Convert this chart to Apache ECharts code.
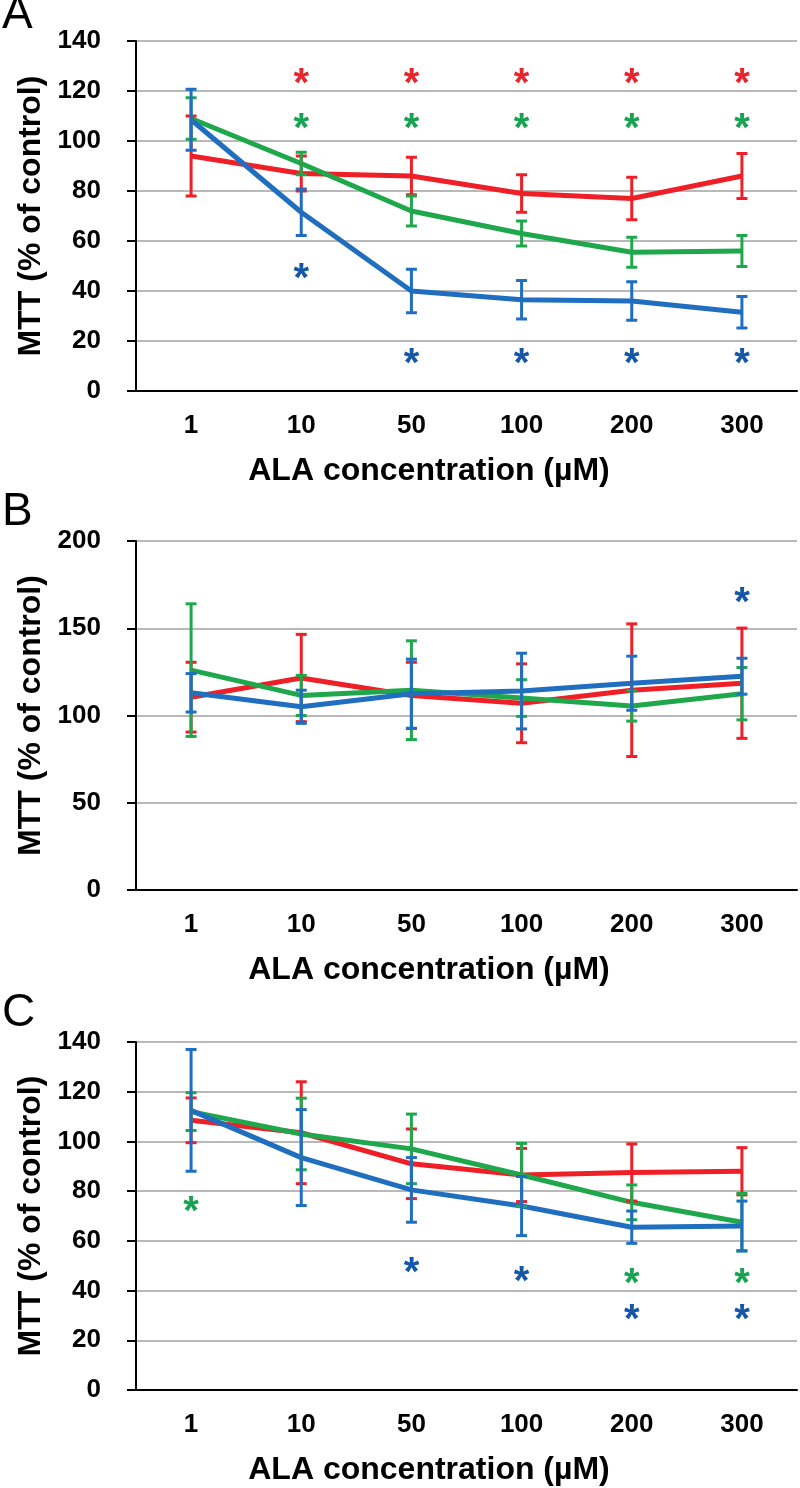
<!DOCTYPE html>
<html>
<head>
<meta charset="utf-8">
<script src="https://cdn.jsdelivr.net/npm/echarts@6/dist/echarts.min.js"></script>
<style>
html,body{margin:0;padding:0;background:#fff;}
#chart{width:800px;height:1488px;}
</style>
</head>
<body>
<div id="chart"></div>
<script>
// ---------- data ----------
const categories = ['1', '10', '50', '100', '200', '300'];

// Panel A
const A_red = [94, 87, 86, 79, 77, 86];
const A_redErr = [16, 7, 7.5, 7.5, 8.5, 9];
const A_green = [109, 91, 72, 63, 55.5, 56];
const A_greenErr = [8.3, 4.5, 6, 5, 6, 6.2];
const A_blue = [108.5, 71.5, 40, 36.5, 36, 31.5];
const A_blueErr = [12.2, 9.3, 8.7, 7.7, 7.7, 6.3];
const A_redStars = [[1, 127], [2, 127], [3, 127], [4, 127], [5, 127]];
const A_greenStars = [[1, 109], [2, 109], [3, 109], [4, 109], [5, 109]];
const A_blueStars = [[1, 49], [2, 15], [3, 15], [4, 15], [5, 15]];

// Panel B
const B_red = [110.5, 121.5, 111.5, 107, 114.5, 118.5];
const B_redErr = [20, 25, 19, 22.6, 38, 31.6];
const B_green = [126, 111.5, 114.5, 110, 105.5, 112.5];
const B_greenErr = [38, 11.5, 28.3, 10.5, 8.7, 15];
const B_blue = [113, 105, 112.5, 114, 118.5, 122.5];
const B_blueErr = [11, 9.5, 19.8, 21.7, 15.5, 10.3];
const B_redStars = [];
const B_greenStars = [];
const B_blueStars = [[5, 170.5]];

// Panel C
const C_red = [108.5, 103.5, 91, 86.5, 87.5, 88];
const C_redErr = [9, 20.5, 14, 10.7, 11.5, 9.5];
const C_green = [112, 103, 97, 86.5, 75.5, 67.5];
const C_greenErr = [7.6, 14.4, 14, 12.7, 7, 11.6];
const C_blue = [112.5, 93.5, 80.5, 74, 65.5, 66];
const C_blueErr = [24.5, 19.3, 13, 11.9, 6.5, 10];
const C_redStars = [];
const C_greenStars = [[0, 75.5], [4, 46.5], [5, 46.5]];
const C_blueStars = [[2, 51], [3, 47.5], [4, 32], [5, 32]];

// y-axis tick settings
const A_yMax = 140, A_yStep = 20;
const B_yMax = 200, B_yStep = 50;
const C_yMax = 140, C_yStep = 20;

const xTitle = 'ALA concentration (µM)';
const yTitle = 'MTT (% of control)';
const panelLetters = ['A', 'B', 'C'];

// ---------- style ----------
const RED = '#ee1f26', GREEN = '#1fa84b', BLUE = '#1f6ec0';
const STAR_RED = '#e8242c', STAR_GREEN = '#18a352', STAR_BLUE = '#1656a6';
const FONT = 'Liberation Sans, Arial, sans-serif';

const panels = [
  { top: 41, height: 350, yMax: A_yMax, yStep: A_yStep,
    groups: [[A_red, A_redErr, RED], [A_green, A_greenErr, GREEN], [A_blue, A_blueErr, BLUE]],
    stars: [[A_redStars, STAR_RED], [A_greenStars, STAR_GREEN], [A_blueStars, STAR_BLUE]] },
  { top: 541, height: 349, yMax: B_yMax, yStep: B_yStep,
    groups: [[B_red, B_redErr, RED], [B_green, B_greenErr, GREEN], [B_blue, B_blueErr, BLUE]],
    stars: [[B_redStars, STAR_RED], [B_greenStars, STAR_GREEN], [B_blueStars, STAR_BLUE]] },
  { top: 1042, height: 348, yMax: C_yMax, yStep: C_yStep,
    groups: [[C_red, C_redErr, RED], [C_green, C_greenErr, GREEN], [C_blue, C_blueErr, BLUE]],
    stars: [[C_redStars, STAR_RED], [C_greenStars, STAR_GREEN], [C_blueStars, STAR_BLUE]] }
];

const grid = [], xAxis = [], yAxis = [], series = [], graphics = [];
const letterBaselines = [38, 535, 1036];

panels.forEach((p, k) => {
  grid.push({ left: 136, top: p.top, width: 661, height: p.height });
  xAxis.push({
    type: 'category', gridIndex: k, data: categories, boundaryGap: true,
    axisLine: { lineStyle: { color: '#000', width: 2 } },
    axisTick: { alignWithLabel: true, length: 7, lineStyle: { color: '#000', width: 2 } },
    axisLabel: { color: '#000', fontFamily: FONT, fontWeight: 'bold', fontSize: 26, margin: 22 },
    splitLine: { show: false }
  });
  yAxis.push({
    type: 'value', gridIndex: k, min: 0, max: p.yMax, interval: p.yStep,
    name: yTitle, nameLocation: 'middle', nameGap: 84, nameRotate: 90,
    nameTextStyle: { color: '#000', fontFamily: FONT, fontWeight: 'bold', fontSize: 32 },
    axisLine: { show: true, lineStyle: { color: '#000', width: 2 } },
    axisTick: { show: true, length: 9, lineStyle: { color: '#000', width: 2 } },
    axisLabel: { color: '#000', fontFamily: FONT, fontWeight: 'bold', fontSize: 26, margin: 35 },
    splitLine: { show: true, lineStyle: { color: '#b9b9b9', width: 2 } }
  });
  // lines
  p.groups.forEach(g => {
    series.push({
      type: 'line', xAxisIndex: k, yAxisIndex: k, data: g[0],
      symbol: 'none', lineStyle: { color: g[2], width: 5 }, z: 3, animation: false
    });
  });
  // error bars
  p.groups.forEach(g => {
    series.push({
      type: 'custom', xAxisIndex: k, yAxisIndex: k, z: 4, animation: false,
      data: g[0].map((m, i) => [i, m, g[1][i]]),
      encode: { x: 0, y: 1 },
      renderItem: function (params, api) {
        const i = api.value(0), m = api.value(1), e = api.value(2);
        const t = api.coord([i, m + e]);
        const b = api.coord([i, m - e]);
        const w = 5.5;
        const st = { stroke: g[2], lineWidth: 3 };
        return { type: 'group', children: [
          { type: 'line', shape: { x1: t[0], y1: t[1], x2: b[0], y2: b[1] }, style: st },
          { type: 'line', shape: { x1: t[0] - w, y1: t[1], x2: t[0] + w, y2: t[1] }, style: st },
          { type: 'line', shape: { x1: b[0] - w, y1: b[1], x2: b[0] + w, y2: b[1] }, style: st }
        ] };
      }
    });
  });
  // significance asterisks
  p.stars.forEach(s => {
    if (!s[0].length) return;
    series.push({
      type: 'custom', xAxisIndex: k, yAxisIndex: k, z: 5, animation: false,
      data: s[0], encode: { x: 0, y: 1 },
      renderItem: function (params, api) {
        const c = api.coord([api.value(0), api.value(1)]);
        return { type: 'text', x: c[0], y: c[1] + 11, style: {
          text: '*', fill: s[1], font: 'bold 40px ' + FONT,
          textAlign: 'center', textVerticalAlign: 'middle' } };
      }
    });
  });
  // x-axis title and panel letter
  graphics.push({ type: 'text', x: 429, y: p.top + p.height + 80, style: {
    text: xTitle, fill: '#000', font: 'bold 32px ' + FONT, textAlign: 'center', textVerticalAlign: 'middle' } });
  graphics.push({ type: 'text', x: 2, y: letterBaselines[k], style: {
    text: panelLetters[k], fill: '#000', font: '46px ' + FONT, textAlign: 'left', textVerticalAlign: 'bottom' } });
});

const chart = echarts.init(document.getElementById('chart'), null, { renderer: 'canvas' });
chart.setOption({
  backgroundColor: '#fff',
  animation: false,
  grid: grid, xAxis: xAxis, yAxis: yAxis, series: series,
  graphic: { elements: graphics }
});
</script>
</body>
</html>
